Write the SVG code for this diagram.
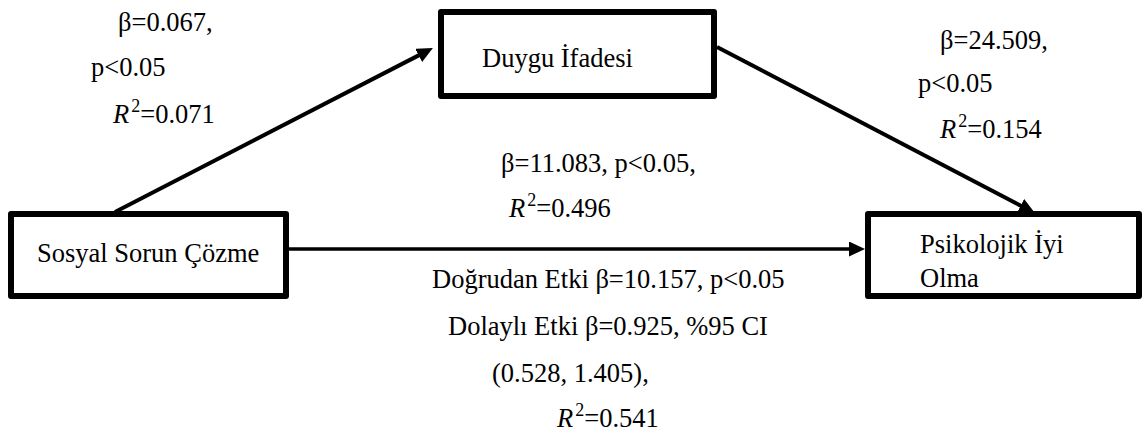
<svg xmlns="http://www.w3.org/2000/svg" width="1142" height="434" viewBox="0 0 1142 434">
<style>
text{font-family:"Liberation Serif","Times New Roman",serif;font-size:26.5px;fill:#000}
.box{fill:#fff;stroke:#000;stroke-width:6;stroke-linejoin:round}
.c{stroke:#000;fill:none}
.i{font-style:italic}
.sup{font-size:18px}
</style>
<defs>
<marker id="ah" markerUnits="userSpaceOnUse" markerWidth="18" markerHeight="16" refX="6" refY="7.5" orient="auto" viewBox="0 0 18 16">
<path d="M0,0 L16,7.5 L0,15 z" fill="#000"/>
</marker>
</defs>
<g id="connectors">
<line class="c" x1="115" y1="212" x2="424" y2="52.6" stroke-width="4" marker-end="url(#ah)"/>
<line class="c" x1="717" y1="47" x2="1026" y2="208.4" stroke-width="4" marker-end="url(#ah)"/>
<line class="c" x1="288" y1="249" x2="855" y2="249" stroke-width="3.5" marker-end="url(#ah)"/>
</g>
<g id="node-sosyal">
<rect class="box" x="11" y="214" width="275" height="82"/>
<text x="37" y="262">Sosyal Sorun Çözme</text>
</g>
<g id="node-duygu">
<rect class="box" x="441" y="12" width="273" height="84"/>
<text x="482" y="67">Duygu İfadesi</text>
</g>
<g id="node-psikolojik">
<rect class="box" x="868" y="214" width="271" height="82"/>
<text x="920" y="253">Psikolojik İyi</text>
<text x="920" y="287">Olma</text>
</g>
<g id="labels">
<text x="118" y="31">β=0.067,</text>
<text x="91" y="76">p&lt;0.05</text>
<text x="113" y="123"><tspan class="i">R</tspan><tspan class="sup" dx="2" dy="-11">2</tspan><tspan dy="11">=0.071</tspan></text>
<text x="940" y="49">β=24.509,</text>
<text x="918" y="92">p&lt;0.05</text>
<text x="940" y="138"><tspan class="i">R</tspan><tspan class="sup" dx="2" dy="-11">2</tspan><tspan dy="11">=0.154</tspan></text>
<text x="501" y="172">β=11.083, p&lt;0.05,</text>
<text x="509" y="217"><tspan class="i">R</tspan><tspan class="sup" dx="2" dy="-11">2</tspan><tspan dy="11">=0.496</tspan></text>
<text x="432" y="288">Doğrudan Etki β=10.157, p&lt;0.05</text>
<text x="448" y="335">Dolaylı Etki β=0.925, %95 CI</text>
<text x="492" y="382">(0.528, 1.405),</text>
<text x="557" y="427"><tspan class="i">R</tspan><tspan class="sup" dx="2" dy="-11">2</tspan><tspan dy="11">=0.541</tspan></text>
</g>
</svg>
